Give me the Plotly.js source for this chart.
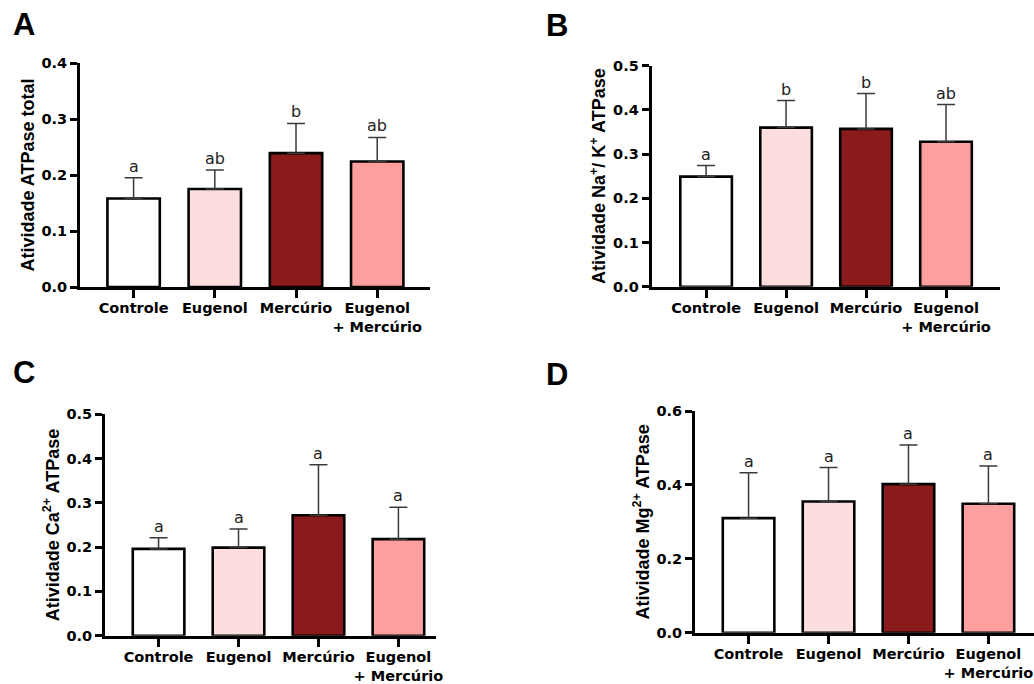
<!DOCTYPE html>
<html>
<head>
<meta charset="utf-8">
<script src="https://cdn.plot.ly/plotly-3.0.1.min.js"></script>
<style>html,body{margin:0;padding:0;background:#fff;}#chart{width:1034px;height:684px;}</style>
</head>
<body>
<div id="chart"></div>
<script>
const categories = ["Controle", "Eugenol", "Mercúrio", "Eugenol<br>+ Mercúrio"];
const barColors = ["#FFFFFF", "#FDDEDF", "#8B1A1C", "#FE9F9F"];
const noLower = [0, 0, 0, 0];

// Panel A – total ATPase
const meanA = [0.158, 0.175, 0.239, 0.224];
const errA  = [0.037, 0.034, 0.053, 0.043];
const sigA  = ["a", "ab", "b", "ab"];
// Panel B – Na+/K+ ATPase
const meanB = [0.249, 0.360, 0.357, 0.328];
const errB  = [0.025, 0.061, 0.080, 0.084];
const sigB  = ["a", "b", "b", "ab"];
// Panel C – Ca2+ ATPase
const meanC = [0.196, 0.199, 0.272, 0.218];
const errC  = [0.025, 0.042, 0.114, 0.072];
const sigC  = ["a", "a", "a", "a"];
// Panel D – Mg2+ ATPase
const meanD = [0.310, 0.355, 0.402, 0.349];
const errD  = [0.123, 0.092, 0.106, 0.102];
const sigD  = ["a", "a", "a", "a"];

const FONT = "Arial, 'Liberation Sans', Helvetica, sans-serif";
const WIDE = "'DejaVu Sans', Verdana, sans-serif";
const W = 1034, H = 684;

const panels = [
  {mean: meanA, err: errA, sig: sigA, title: "Atividade ATPase total", ymax: 0.4, dtick: 0.1,
   px: [80, 430], py: [63, 287], xr: [-0.66, 3.65], letter: "A", lx: 24, ly: 24},
  {mean: meanB, err: errB, sig: sigB, title: "Atividade Na<sup>+</sup>/ K<sup>+</sup> ATPase", ymax: 0.5, dtick: 0.1,
   px: [651.7, 1000], py: [65.7, 286.7], xr: [-0.68, 3.675], letter: "B", lx: 557, ly: 25},
  {mean: meanC, err: errC, sig: sigC, title: "Atividade Ca<sup>2+</sup> ATPase", ymax: 0.5, dtick: 0.1,
   px: [105, 436], py: [414.3, 635.7], xr: [-0.67, 3.47], letter: "C", lx: 24, ly: 373},
  {mean: meanD, err: errD, sig: sigD, title: "Atividade Mg<sup>2+</sup> ATPase", ymax: 0.6, dtick: 0.2,
   px: [695, 1034], py: [411, 632.7], xr: [-0.67, 3.57], letter: "D", lx: 557, ly: 374}
];

const data = [];
const layout = {
  width: W, height: H,
  margin: {l: 0, r: 0, t: 0, b: 0},
  paper_bgcolor: "#fff", plot_bgcolor: "rgba(0,0,0,0)",
  showlegend: false,
  font: {family: FONT, color: "#000"},
  annotations: []
};

panels.forEach((p, i) => {
  const n = i === 0 ? "" : String(i + 1);
  const xa = "x" + n, ya = "y" + n;
  data.push({
    type: "bar", x: categories, y: p.mean, xaxis: xa, yaxis: ya,
    width: 0.645,
    marker: {color: barColors, line: {color: "#000", width: 2.6}},
    error_y: {type: "data", symmetric: false, array: p.err, arrayminus: noLower,
              color: "#3a3a3a", thickness: 1.5, width: 9},
    hoverinfo: "skip"
  });
  layout["xaxis" + n] = {
    domain: [p.px[0] / W, Math.min(1, p.px[1] / W)],
    anchor: ya, type: "category", range: p.xr,
    showline: true, linecolor: "#000", linewidth: 3,
    ticks: "outside", ticklen: 8, tickwidth: 3, tickcolor: "#000",
    tickangle: 0, ticklabelstandoff: -2,
    tickfont: {family: WIDE, size: 14.5, color: "#000", weight: "bold"},
    showgrid: false, zeroline: false, fixedrange: true
  };
  layout["yaxis" + n] = {
    domain: [1 - p.py[1] / H, 1 - p.py[0] / H],
    anchor: xa, range: [0, p.ymax], dtick: p.dtick, tickformat: ".1f",
    showline: true, linecolor: "#000", linewidth: 3,
    ticks: "outside", ticklen: 7, tickwidth: 3, tickcolor: "#000",
    tickfont: {family: WIDE, size: 14.5, color: "#000", weight: "bold"},
    title: {text: p.title, font: {family: FONT, size: 18, color: "#000", weight: "bold"}, standoff: 3},
    showgrid: false, zeroline: false, fixedrange: true
  };
  p.sig.forEach((s, k) => {
    layout.annotations.push({
      xref: xa, yref: ya, x: categories[k], y: p.mean[k] + p.err[k],
      text: s, showarrow: false, yanchor: "bottom", yshift: 0,
      font: {family: WIDE, size: 16, color: "#222"}
    });
  });
  layout.annotations.push({
    xref: "paper", yref: "paper", x: p.lx / W, y: 1 - p.ly / H,
    text: p.letter, showarrow: false, xanchor: "center", yanchor: "middle",
    font: {family: FONT, size: 31, color: "#000", weight: "bold"}
  });
});

Plotly.newPlot("chart", data, layout, {displayModeBar: false, staticPlot: true});
</script>
</body>
</html>
